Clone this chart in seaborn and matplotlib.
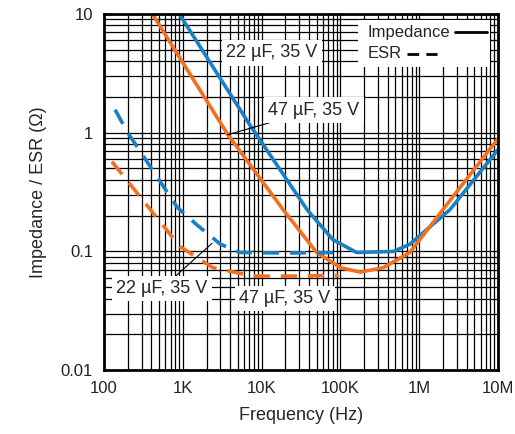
import numpy as np
import pandas as pd
import matplotlib
matplotlib.use("Agg")
import matplotlib.pyplot as plt
from matplotlib.lines import Line2D
from matplotlib.patches import Rectangle
from matplotlib.ticker import FixedLocator, LogLocator, NullFormatter
import seaborn as sns

# impedance, 22 uF / 35 V
z22_freq = [900, 7100, 37700, 80000, 160000, 470000, 760000, 2460000, 10000000]
z22_val = [10, 1.16, 0.225, 0.126, 0.098, 0.100, 0.115, 0.225, 0.72]
# impedance, 47 uF / 35 V
z47_freq = [410, 3700, 18700, 50000, 100000, 178000, 350000, 760000, 2000000, 10000000]
z47_val = [10, 0.97, 0.225, 0.098, 0.073, 0.067, 0.073, 0.098, 0.225, 0.89]
# ESR, 22 uF / 35 V
esr22_freq = [138, 200, 850, 1500, 3000, 5300, 20000, 110000]
esr22_val = [1.56, 1.0, 0.235, 0.168, 0.115, 0.098, 0.097, 0.098]
# ESR, 47 uF / 35 V
esr47_freq = [126, 407, 920, 2400, 7800, 30000, 95000]
esr47_val = [0.57, 0.216, 0.11, 0.073, 0.062, 0.062, 0.063]

x_ticks = [100, 1e3, 1e4, 1e5, 1e6, 1e7]
x_tick_labels = ["100", "1K", "10K", "100K", "1M", "10M"]
y_ticks = [0.01, 0.1, 1, 10]
y_tick_labels = ["0.01", "0.1", "1", "10"]

blue = "#1a80c4"
orange = "#f37021"

sns.set_style("white")
plt.rcParams['font.family'] = ['Liberation Sans', 'DejaVu Sans']

fig = plt.figure(figsize=(5.15, 4.34), dpi=100)
ax = fig.add_axes([0.202, 0.147, 0.765, 0.821])

series = [
    (z22_freq, z22_val, blue, "-"),
    (z47_freq, z47_val, orange, "-"),
    (esr22_freq, esr22_val, blue, "--"),
    (esr47_freq, esr47_val, orange, "--"),
]
for freq, val, color, ls in series:
    df = pd.DataFrame({"f": freq, "z": val})
    line_kw = dict(x="f", y="z", data=df, ax=ax, color=color, linewidth=2.6)
    if ls == "--":
        sns.lineplot(**line_kw, dashes=False, linestyle=(0, (4.5, 3)))
    else:
        sns.lineplot(**line_kw)

ax.set_xscale("log")
ax.set_yscale("log")
ax.set_xlim(100, 1e7)
ax.set_ylim(0.01, 10)

ax.xaxis.set_major_locator(FixedLocator(x_ticks))
ax.set_xticklabels(x_tick_labels)
ax.yaxis.set_major_locator(FixedLocator(y_ticks))
ax.set_yticklabels(y_tick_labels)
ax.xaxis.set_minor_locator(LogLocator(base=10, subs=np.arange(2, 10)))
ax.yaxis.set_minor_locator(LogLocator(base=10, subs=np.arange(2, 10)))
ax.xaxis.set_minor_formatter(NullFormatter())
ax.yaxis.set_minor_formatter(NullFormatter())
ax.tick_params(which="both", length=0, labelsize=12, pad=8, colors="#222222")

ax.grid(which="both", color="black", linewidth=0.9)
ax.set_axisbelow(True)
for sp in ax.spines.values():
    sp.set_visible(True)
    sp.set_color("black")
    sp.set_linewidth(2)

ax.set_xlabel("Frequency (Hz)", fontsize=13, labelpad=8)
ax.set_ylabel("Impedance / ESR (\u03a9)", fontsize=13, labelpad=10)

box = dict(facecolor="white", edgecolor="none", pad=3)
lead = dict(arrowstyle="-", color="black", lw=0.8, shrinkA=0, shrinkB=0)
ax.text(13500, 4.69, "22 \u00b5F, 35 V", ha="center", va="center", fontsize=13, bbox=box)
ax.annotate("47 \u00b5F, 35 V", xy=(3700, 0.96), xytext=(46000, 1.55),
            ha="center", va="center", fontsize=13, bbox=box, arrowprops=lead)
ax.annotate("22 \u00b5F, 35 V", xy=(2350, 0.117), xytext=(545, 0.049),
            ha="center", va="center", fontsize=13, bbox=box, arrowprops=lead)
ax.text(19800, 0.040, "47 \u00b5F, 35 V", ha="center", va="center", fontsize=13, bbox=box)

# legend: label on the left, line sample on the right
ax.add_patch(Rectangle((0.645, 0.851), 0.335, 0.132, transform=ax.transAxes,
                       facecolor="white", edgecolor="none", zorder=4))
ax.text(0.67, 0.947, "Impedance", transform=ax.transAxes, fontsize=12,
        ha="left", va="center", zorder=5)
ax.text(0.67, 0.888, "ESR", transform=ax.transAxes, fontsize=12,
        ha="left", va="center", zorder=5)
ax.add_line(Line2D([0.89, 0.972], [0.95, 0.95], transform=ax.transAxes,
                   color="black", lw=2, zorder=5))
ax.add_line(Line2D([0.769, 0.845], [0.888, 0.888], transform=ax.transAxes,
                   color="black", lw=2, linestyle=(0, (4.2, 2.6)), zorder=5))

fig.savefig("out.png", dpi=100)
